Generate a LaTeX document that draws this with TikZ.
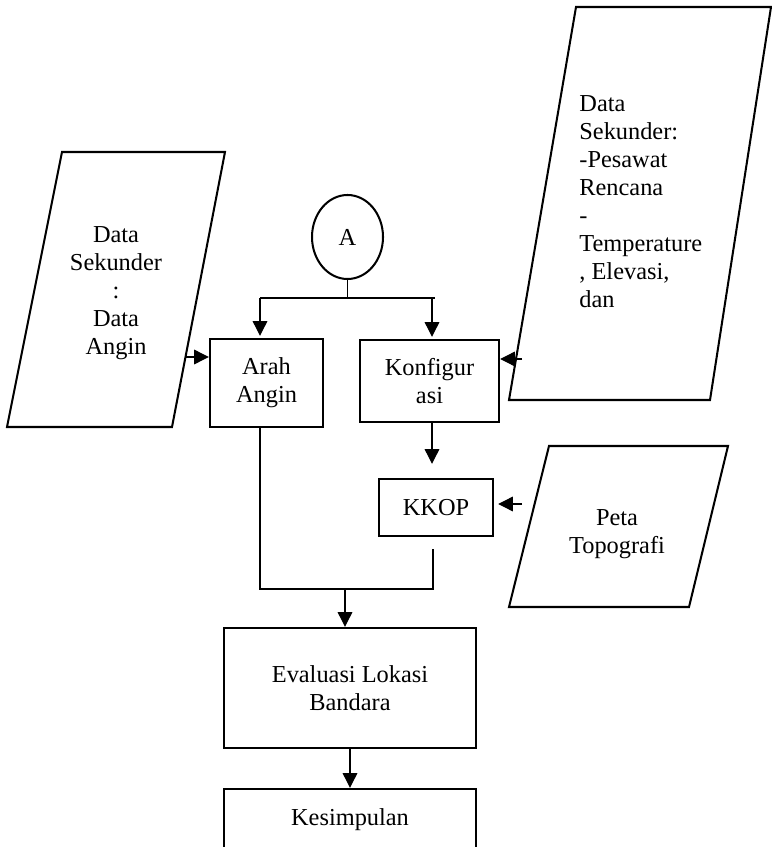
\documentclass[tikz,border=0pt]{standalone}
\usepackage{fontspec}
\setmainfont{Liberation Serif}
\usetikzlibrary{arrows.meta,shapes.geometric}
\newcommand\pxu{0.4926pt}
\newcommand\fs{\fontsize{12pt}{13.8pt}\selectfont}
\begin{document}
\begin{tikzpicture}[x=0.4926pt,y=-0.4926pt,
  box/.style={draw,line width=1.2pt,inner sep=0pt,align=center,font=\fs},
  conn/.style={line width=0.6pt},
  arr/.style={conn,-{Triangle[length=7.2pt,width=7.2pt]}},
  para/.style={line width=1pt,line join=miter},
  txt/.style={inner sep=0pt,font=\fs}]
\useasboundingbox (0,0) rectangle (771,847);

% parallelograms
\draw[para] (62,152) -- (225,152) -- (172,427) -- (7,427) -- cycle;
\draw[para] (576,7) -- (771,7) -- (710,400) -- (509,400) -- cycle;
\draw[para] (549,446) -- (728,446) -- (689,607) -- (509,607) -- cycle;
\node[txt,anchor=north,align=center] (ltext) at (116,226) {Data\\Sekunder\\:\\Data\\Angin};
\node[txt,anchor=north west,align=left] (rtext) at (579,95) {Data\\Sekunder:\\-Pesawat\\Rencana\\-\\Temperature\\, Elevasi,\\dan};
\node[txt,anchor=north,align=center] (ptext) at (617,509) {Peta\\Topografi};

% start circle
\node[draw,ellipse,line width=1pt,inner sep=0pt,minimum width=71*\pxu,minimum height=84*\pxu,font=\fs] (A) at (347.5,237) {A};

% boxes
\node[box,minimum width=113*\pxu,minimum height=88*\pxu] (arah) at (266.5,383) {Arah\\Angin};
\node[box,minimum width=139*\pxu,minimum height=82*\pxu] (konf) at (429.5,381) {Konfigur\\asi};
\node[box,minimum width=114*\pxu,minimum height=57*\pxu] (kkop) at (436,507.5) {KKOP};
\node[box,minimum width=252*\pxu,minimum height=120*\pxu] (eval) at (350,688) {Evaluasi Lokasi\\Bandara};
\node[box,minimum width=252*\pxu,minimum height=62*\pxu] (kesim) at (350,820) {Kesimpulan};

% coordinates
\coordinate (split) at (347.5,298);
\coordinate (sl) at (260,298);
\coordinate (sr) at (435,298);
\coordinate (sa) at (432,298);
\coordinate (lp) at (185,357);
\coordinate (rp) at (522,359);
\coordinate (kx) at (432,0);
\coordinate (pp) at (522,504);
\coordinate (m1) at (260,589);
\coordinate (m2) at (433,589);
\coordinate (kb) at (433,549);
\coordinate (m3) at (345,589);

% connectors
\draw[conn] (A.south) -- (split);
\draw[conn] (sl) -- (sr);
\draw[arr,shorten >=2*\pxu] (sl) -- (arah.north -| sl);
\draw[arr,shorten >=2*\pxu] (sa) -- (konf.north -| sa);
\draw[arr] (lp) -- (lp -| arah.west);
\draw[arr] (rp) -- (rp -| konf.east);
\draw[arr,shorten >=14*\pxu] (konf.south -| kx) -- (kkop.north -| kx);
\draw[arr,shorten >=4*\pxu] (pp) -- (pp -| kkop.east);
\draw[conn] (arah.south -| m1) -- (m1) -- (m2) -- (kb);
\draw[arr] (m3) -- (eval.north -| m3);
\draw[arr] (eval.south) -- (kesim.north);
\end{tikzpicture}
\end{document}
